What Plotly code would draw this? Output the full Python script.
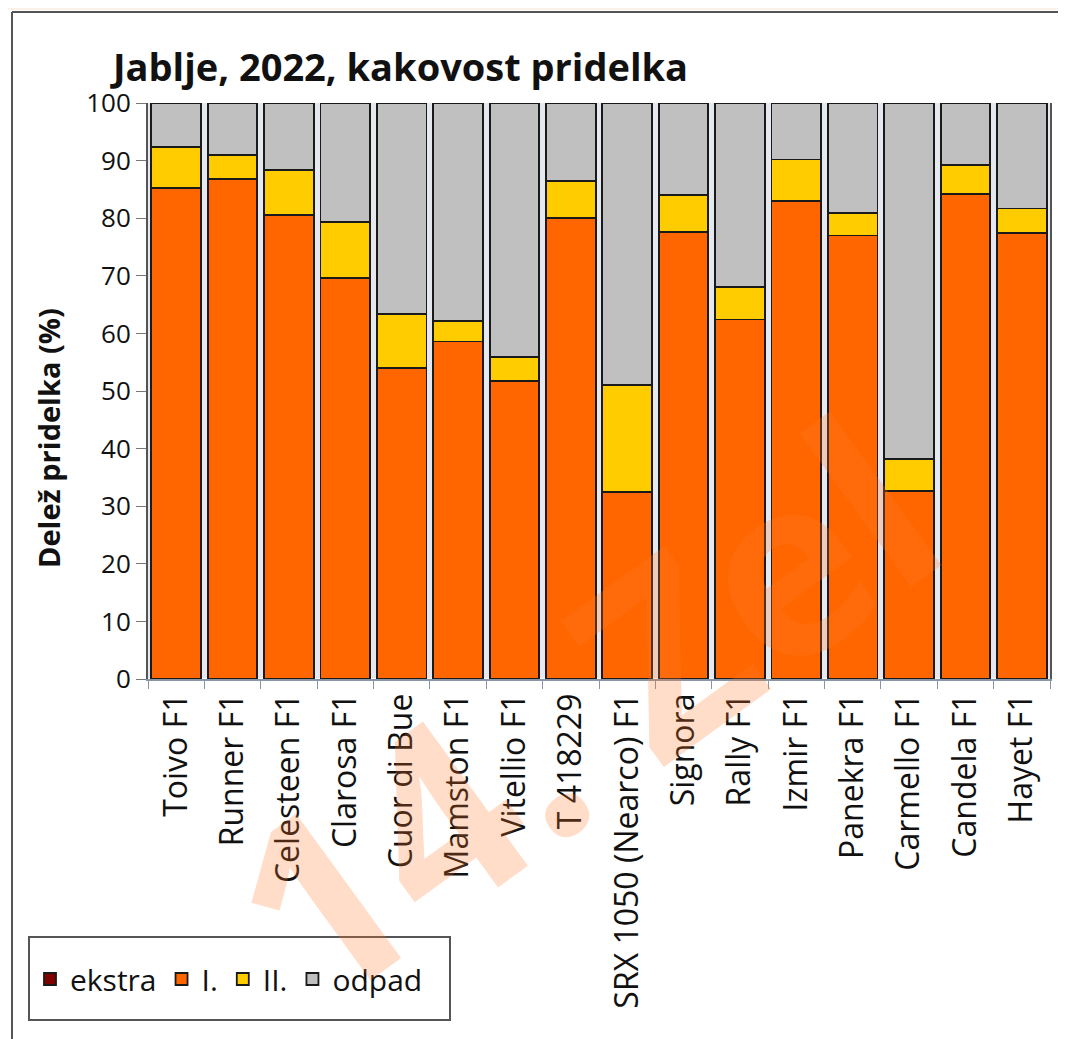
import plotly.graph_objects as go

categories = ["Toivo F1", "Runner F1", "Celesteen F1", "Clarosa F1", "Cuor di Bue",
              "Mamston F1", "Vitellio F1", "T 418229", "SRX 1050 (Nearco) F1", "Signora",
              "Rally F1", "Izmir F1", "Panekra F1", "Carmello F1", "Candela F1", "Hayet F1"]
ekstra = [0, 0, 0, 0, 0, 0, 0, 0, 0, 0, 0, 0, 0, 0, 0, 0]
razred_1 = [85.2, 86.8, 80.6, 69.6, 54.0, 58.6, 51.7, 80.1, 32.5, 77.6, 62.4, 83.0, 77.0, 32.7, 84.2, 77.4]
razred_2 = [7.2, 4.2, 7.7, 9.7, 9.3, 3.6, 4.2, 6.4, 18.6, 6.4, 5.6, 7.2, 3.9, 5.5, 5.1, 4.3]
odpad = [round(100 - a - b - e, 1) for a, b, e in zip(razred_1, razred_2, ekstra)]

series = [("ekstra", ekstra, "#800000"), ("I.", razred_1, "#ff6600"),
          ("II.", razred_2, "#ffcc00"), ("odpad", odpad, "#c0c0c0")]

fig = go.Figure()
for name, vals, col in series:
    fig.add_trace(go.Bar(x=categories, y=vals, name=name,
                         marker=dict(color=col, line=dict(color="#1a1a1a", width=1.8))))

# the page adds an 8px body margin, so work in figure pixels = reference pixels - 8
OFF = 8
W, H = 1066 - OFF, 1039 - OFF
L, R, T, B = 148 - OFF, 1066 - 1050, 103 - OFF, 1039 - 679
pw, ph = W - L - R, H - T - B

def px_x(x):  # reference pixel -> paper x
    return (x - OFF - L) / pw

def px_y(y):  # reference pixel -> paper y
    return (H - B - (y - OFF)) / ph

FONT = "Open Sans, DejaVu Sans, sans-serif"

fig.update_layout(
    width=W, height=H,
    margin=dict(l=L, r=R, t=T, b=B),
    barmode="stack", bargap=0.12,
    paper_bgcolor="white", plot_bgcolor="#e6e8ef",
    font=dict(family=FONT, color="#111111", size=22),
    showlegend=True,
    legend=dict(orientation="h", traceorder="normal",
                x=px_x(30), y=px_y(979), xanchor="left", yanchor="middle",
                borderwidth=0, bgcolor="rgba(0,0,0,0)",
                font=dict(size=30), itemwidth=30),
    xaxis=dict(type="category", tickangle=-90, showline=True, linecolor="#8a95a5",
               linewidth=1.5, ticks="outside", tickson="boundaries", ticklen=8,
               tickcolor="#8a95a5", tickfont=dict(size=32, color="#111"), mirror=False,
               showgrid=False),
    yaxis=dict(range=[0, 100], dtick=10, showline=True, linecolor="#555555",
               linewidth=2, ticks="outside", ticklen=10, tickcolor="#777777",
               tickfont=dict(size=26, color="#111"), showgrid=False, mirror=True),
)

# legend frame
fig.add_shape(type="rect", xref="paper", yref="paper", x0=px_x(29), x1=px_x(450), y0=px_y(937), y1=px_y(1020),
              fillcolor="white", line=dict(color="#555555", width=2), layer="below")

# y axis title
fig.add_annotation(text="<b>Delež pridelka (%)</b>", xref="paper", yref="paper",
                   x=px_x(48), y=px_y(438), xanchor="center", yanchor="middle",
                   textangle=-90, showarrow=False, font=dict(size=29, family=FONT, color="#111"))

# chart title
fig.add_annotation(text="<b>Jablje, 2022, kakovost pridelka</b>", xref="paper", yref="paper",
                   x=px_x(108), y=px_y(66), xanchor="left", yanchor="middle",
                   showarrow=False, font=dict(size=38, family=FONT, color="#111"))

# watermark
fig.add_annotation(text="<b>14. Zel</b>", xref="paper", yref="paper",
                   x=px_x(580), y=px_y(708), xanchor="center", yanchor="middle",
                   textangle=-36, showarrow=False,
                   font=dict(size=250, family=FONT, color="rgba(255,120,40,0.25)"))

# top peach strip and outer frame
fig.add_shape(type="rect", xref="paper", yref="paper", x0=px_x(0), x1=px_x(1066), y0=px_y(0), y1=px_y(10),
              fillcolor="#fdf1e8", line=dict(width=0), layer="below")
fig.add_shape(type="line", xref="paper", yref="paper", x0=px_x(12), x1=px_x(1066), y0=px_y(12), y1=px_y(12),
              line=dict(color="#555555", width=2))
fig.add_shape(type="line", xref="paper", yref="paper", x0=px_x(12), x1=px_x(12), y0=px_y(12), y1=px_y(1039),
              line=dict(color="#555555", width=2))

fig.write_html("out.html")
